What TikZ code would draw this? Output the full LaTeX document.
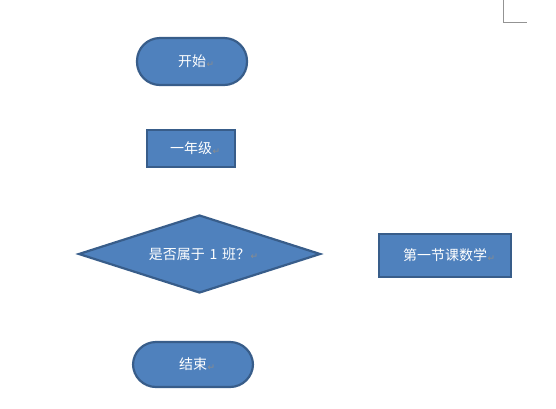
\documentclass[tikz,border=0pt]{standalone}
\usepackage{fontspec}
\setmainfont{Noto Sans CJK SC}
\newfontfamily\markfont{DejaVu Sans}
\usetikzlibrary{shapes.geometric}
\definecolor{boxfill}{HTML}{4F81BD}
\definecolor{boxline}{HTML}{385D8A}
\definecolor{markgray}{HTML}{8C8C8C}
\newcommand{\pmark}{\rlap{\hspace{0.5pt}\raisebox{-0.5pt}{\markfont\fontsize{9}{9}\selectfont\color{markgray}↵}}}
\tikzset{
  shapebase/.style={draw=boxline, fill=boxfill, line width=2.2pt, text=white,
    font=\fontsize{14}{15}\selectfont, inner sep=0pt},
  terminal/.style={shapebase, rectangle, rounded corners=23pt},
  process/.style={shapebase, rectangle},
  decision/.style={shapebase, diamond, aspect=3.1},
}
\begin{document}
\begin{tikzpicture}[x=1pt,y=-1pt]
\useasboundingbox (0,0) rectangle (556,408);
\fill[white] (0,0) rectangle (556,408);
\draw[gray!85, line width=1pt] (503.5,0) -- (503.5,22) coordinate (cornerb) -- (527,22);
\node[terminal, minimum width=110pt, minimum height=47pt] (start) at (192,61.5) {开始\pmark};
\node[process, minimum width=88pt, minimum height=37pt] (grade) at (191,148.5) {一年级\pmark};
\node[decision, minimum width=242pt, minimum height=78pt, text width=10pt, align=center] (cond) at (199.5,254) {\makebox[10pt]{是否属于 1 班？\pmark}};
\node[process, minimum width=132pt, minimum height=43pt] (math) at (445,255.5) {第一节课数学\pmark};
\node[terminal, minimum width=120pt, minimum height=45pt] (stop) at (193,364.5) {结束\pmark};
\end{tikzpicture}
\end{document}
